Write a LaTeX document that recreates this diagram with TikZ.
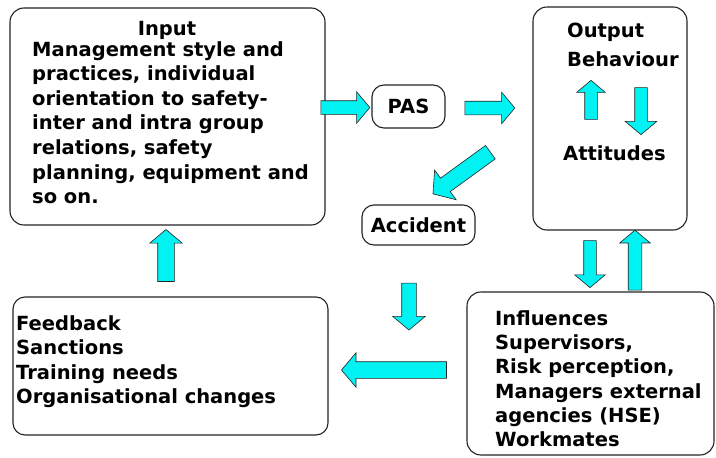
\documentclass[tikz,border=0pt]{standalone}
\usepackage{fontspec}
\setmainfont{DejaVu Sans}
\usepackage{xcolor}
\definecolor{box-line}{RGB}{35,35,35}
\definecolor{arrow-fill}{RGB}{0,242,242}
\usetikzlibrary{shapes.arrows}

\begin{document}
\begin{tikzpicture}[
    x=1pt, y=-1pt,
    every node/.style={inner sep=0pt},
    panel/.style={draw=box-line, line width=1.1pt, rounded corners=14pt},
    label text/.style={font=\fontsize{19.5}{20.5}\selectfont\bfseries, align=left},
    block arrow/.style n args={3}{
        single arrow, draw=box-line, line width=0.6pt, fill=arrow-fill,
        minimum height=#1, inner xsep=0pt, inner ysep=#2,
        single arrow head extend=#3, single arrow tip angle=100
    }
]
\useasboundingbox (0,0) rectangle (716,458);

% Input box
\node[panel, minimum width=315, minimum height=217] (input) at (167.5,116.5) {};
\node[label text, anchor=base] (input-title) at (167,35) {Input};
\node[label text, anchor=north west, font=\fontsize{19.5}{24.6}\selectfont\bfseries]
    (input-text) at (32,41) {%
Management style and\\
practices, individual\\
orientation to safety-\\
inter and intra group\\
relations, safety\\
planning, equipment and\\
so on.};

% PAS and Accident
\node[panel, rounded corners=12pt, minimum width=73, minimum height=43] (pas) at (408.5,106.5) {};
\node[label text] (pas-text) at (pas) {PAS};
\node[panel, rounded corners=12pt, minimum width=113, minimum height=40] (accident) at (418.5,225) {};
\node[label text] (accident-text) at (accident) {Accident};

% Output box
\node[panel, minimum width=154, minimum height=223] (output) at (610,118.5) {};
\node[label text, anchor=north west, font=\fontsize{19.5}{29}\selectfont\bfseries]
    (output-text) at (567,23) {Output\\Behaviour};
\node[label text, anchor=north west] (attitudes) at (563,145.4) {Attitudes};

% Feedback box
\node[panel, rounded corners=12pt, minimum width=315, minimum height=138] (feedback) at (170.5,366) {};
\node[label text, anchor=north west, font=\fontsize{19.5}{24.4}\selectfont\bfseries]
    (feedback-text) at (16,315.2) {%
Feedback\\
Sanctions\\
Training needs\\
Organisational changes};

% Influences box
\node[panel, minimum width=247, minimum height=163] (influences) at (590.5,373.5) {};
\node[label text, anchor=north west, font=\fontsize{19.5}{24.3}\selectfont\bfseries]
    (influences-text) at (495,310.2) {%
Influences\\
Supervisors,\\
Risk perception,\\
Managers external\\
agencies (HSE)\\
Workmates};

% Block arrows
\node[block arrow={49}{6.5}{9}] (input-pas) at (342.5,107.5) {};
\node[block arrow={50}{6.5}{9}] (pas-output) at (487,108) {};
\node[block arrow={71}{8}{10}, rotate=216] (pas-accident) at (464.5,171) {};
\node[block arrow={52}{8}{8}, rotate=90] (feedback-input) at (166,259) {};
\node[block arrow={47}{7}{9}, rotate=-90] (accident-feedback) at (409,303.5) {};
\node[block arrow={105}{8}{9}, rotate=180] (influences-feedback) at (397.5,370) {};
\node[block arrow={39}{6}{8}, rotate=90] (attitudes-behaviour) at (591,102.5) {};
\node[block arrow={47}{6}{9.5}, rotate=-90] (behaviour-attitudes) at (641,108.5) {};
\node[block arrow={47}{6}{9}, rotate=-90] (output-influences) at (590,261.5) {};
\node[block arrow={60}{6.5}{8.5}, rotate=90] (influences-output) at (635,263) {};

\end{tikzpicture}
\end{document}
